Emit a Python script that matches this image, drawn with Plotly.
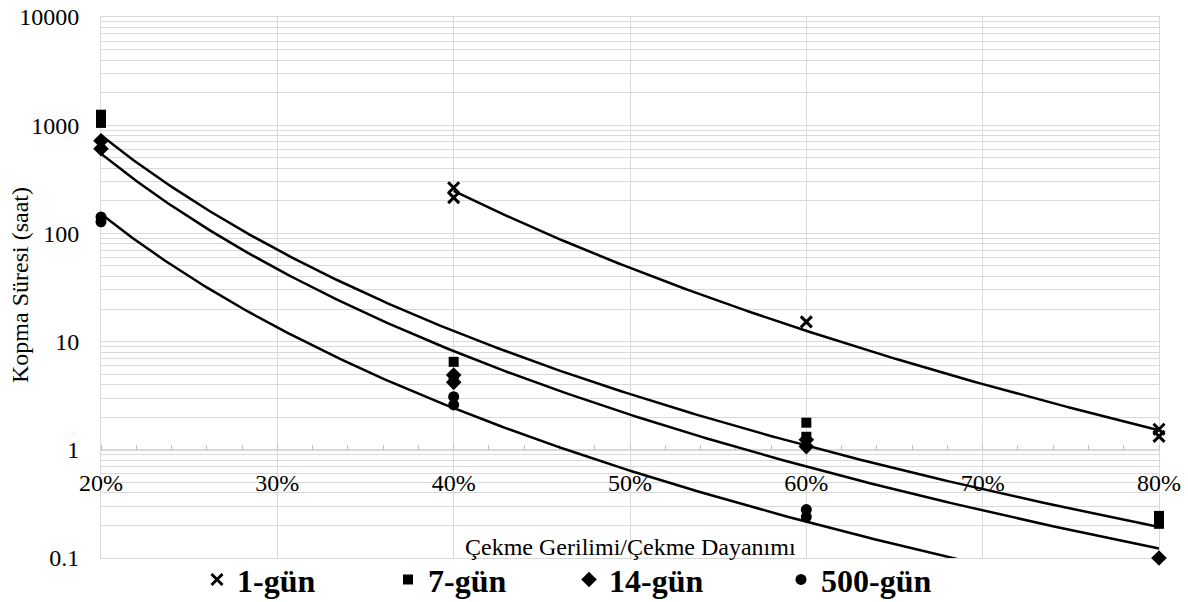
import numpy as np
import plotly.graph_objects as go

# ---- data ----
x_1gun = [0.4, 0.4, 0.6, 0.8, 0.8]
y_1gun = [264, 214, 15.2, 1.55, 1.33]

x_7gun = [0.2, 0.2, 0.4, 0.4, 0.6, 0.6, 0.8, 0.8]
y_7gun = [1250, 1050, 6.5, 4.5, 1.78, 1.32, 0.245, 0.207]

x_14gun = [0.2, 0.2, 0.4, 0.4, 0.6, 0.6, 0.8]
y_14gun = [718, 606, 4.9, 4.2, 1.24, 1.07, 0.1]

# last point lies below the axis minimum (0.1) and is clipped like in the original
x_500gun = [0.2, 0.2, 0.4, 0.4, 0.6, 0.6, 0.8]
y_500gun = [142, 128, 3.1, 2.6, 0.28, 0.24, 0.025]

series_names = ["1-gün", "7-gün", "14-gün", "500-gün"]
x_ticks = [0.2, 0.3, 0.4, 0.5, 0.6, 0.7, 0.8]
y_ticks = [0.1, 1, 10, 100, 1000, 10000]
y_ticktext = ["0.1", "1", "10", "100", "1000", "10000"]
X_MAX = 0.8
Y_MIN = 0.1

FONT = "Liberation Serif, Times New Roman, serif"
GRID = "#d9d9d9"

series = [
    (x_1gun, y_1gun, "x-thin", 11, "legend"),
    (x_7gun, y_7gun, "square", 10, "legend2"),
    (x_14gun, y_14gun, "diamond", 12, "legend3"),
    (x_500gun, y_500gun, "circle", 11, "legend4"),
]

fig = go.Figure()

# power trendlines (least squares in log-log space), drawn to the axis end
for (xs, ys, sym, size, lg), name in zip(series, series_names):
    b, loga = np.polyfit(np.log(xs), np.log(ys), 1)
    xf = np.linspace(min(xs), X_MAX, 300)
    yf = np.exp(loga) * xf ** b
    fig.add_trace(go.Scatter(x=xf, y=yf, mode="lines",
                             line=dict(color="black", width=2.5),
                             showlegend=False, hoverinfo="skip"))

for (xs, ys, sym, size, lg), name in zip(series, series_names):
    vis = [(a, v) for a, v in zip(xs, ys) if v >= Y_MIN * 0.999]
    marker = dict(symbol=sym, size=size, color="black",
                  line=dict(color="black", width=3 if sym == "x-thin" else 0))
    fig.add_trace(go.Scatter(x=[a for a, _ in vis], y=[v for _, v in vis],
                             mode="markers", name=name,
                             marker=marker, cliponaxis=False, legend=lg))

minor_vals = [m * 10.0 ** e for e in range(-1, 4) for m in range(2, 10)]

fig.update_layout(
    width=1188, height=602,
    margin=dict(l=101, r=29, t=17, b=44, autoexpand=False),
    paper_bgcolor="white", plot_bgcolor="white",
    font=dict(family=FONT, color="black"),
    xaxis=dict(
        range=[0.2, X_MAX], tickvals=x_ticks, tickformat=".0%",
        showgrid=True, gridcolor=GRID, gridwidth=1,
        anchor="free", position=0.2, layer="below traces",
        showline=True, linecolor=GRID, linewidth=1,
        ticks="", ticklabelstandoff=11,
        tickfont=dict(size=24, family=FONT, color="black"),
        minor=dict(dtick=0.02, tick0=0.2, ticks="inside", ticklen=5,
                   tickcolor="#bfbfbf", showgrid=False),
        zeroline=False,
    ),
    xaxis2=dict(range=[0.2, X_MAX], overlaying="x", anchor="y", side="bottom",
                showticklabels=False, showgrid=False, showline=True,
                layer="below traces",
                linecolor=GRID, mirror=True, zeroline=False),
    yaxis=dict(
        type="log", range=[-1, 4],
        tickvals=y_ticks, ticktext=y_ticktext,
        showgrid=True, gridcolor=GRID, gridwidth=1,
        showline=True, linecolor=GRID, mirror=True, layer="below traces",
        ticks="", ticklabelstandoff=16,
        tickfont=dict(size=24, family=FONT, color="black"),
        minor=dict(tickvals=minor_vals, showgrid=True, gridcolor=GRID, gridwidth=1),
    ),
    annotations=[
        dict(text="Çekme Gerilimi/Çekme Dayanımı", x=0.5, y=0.0,
             xref="paper", yref="paper", xanchor="center", yanchor="bottom",
             yshift=-4, showarrow=False,
             font=dict(size=24, family=FONT, color="black")),
        dict(text="Kopma Süresi (saat)", x=(20 - 101) / 1058, y=(558 - 285) / 541,
             xref="paper", yref="paper", xanchor="center", yanchor="middle",
             textangle=-90, showarrow=False,
             font=dict(size=24, family=FONT, color="black")),
    ],
)

legend_common = dict(orientation="h", yanchor="middle", y=-0.04, xanchor="left",
                     bgcolor="rgba(0,0,0,0)", itemwidth=30,
                     font=dict(size=32, family=FONT, color="black", weight="bold"))
leg_px = [197, 388, 569, 781]
for i, lg in enumerate(["legend", "legend2", "legend3", "legend4"]):
    fig.update_layout({lg: dict(legend_common, x=(leg_px[i] - 101) / 1058)})

# invisible trace to activate xaxis2 (plot frame)
fig.add_trace(go.Scatter(x=[0.5], y=[1], xaxis="x2", mode="markers",
                         marker=dict(opacity=0), showlegend=False, hoverinfo="skip"))

fig.write_html("out.html")
